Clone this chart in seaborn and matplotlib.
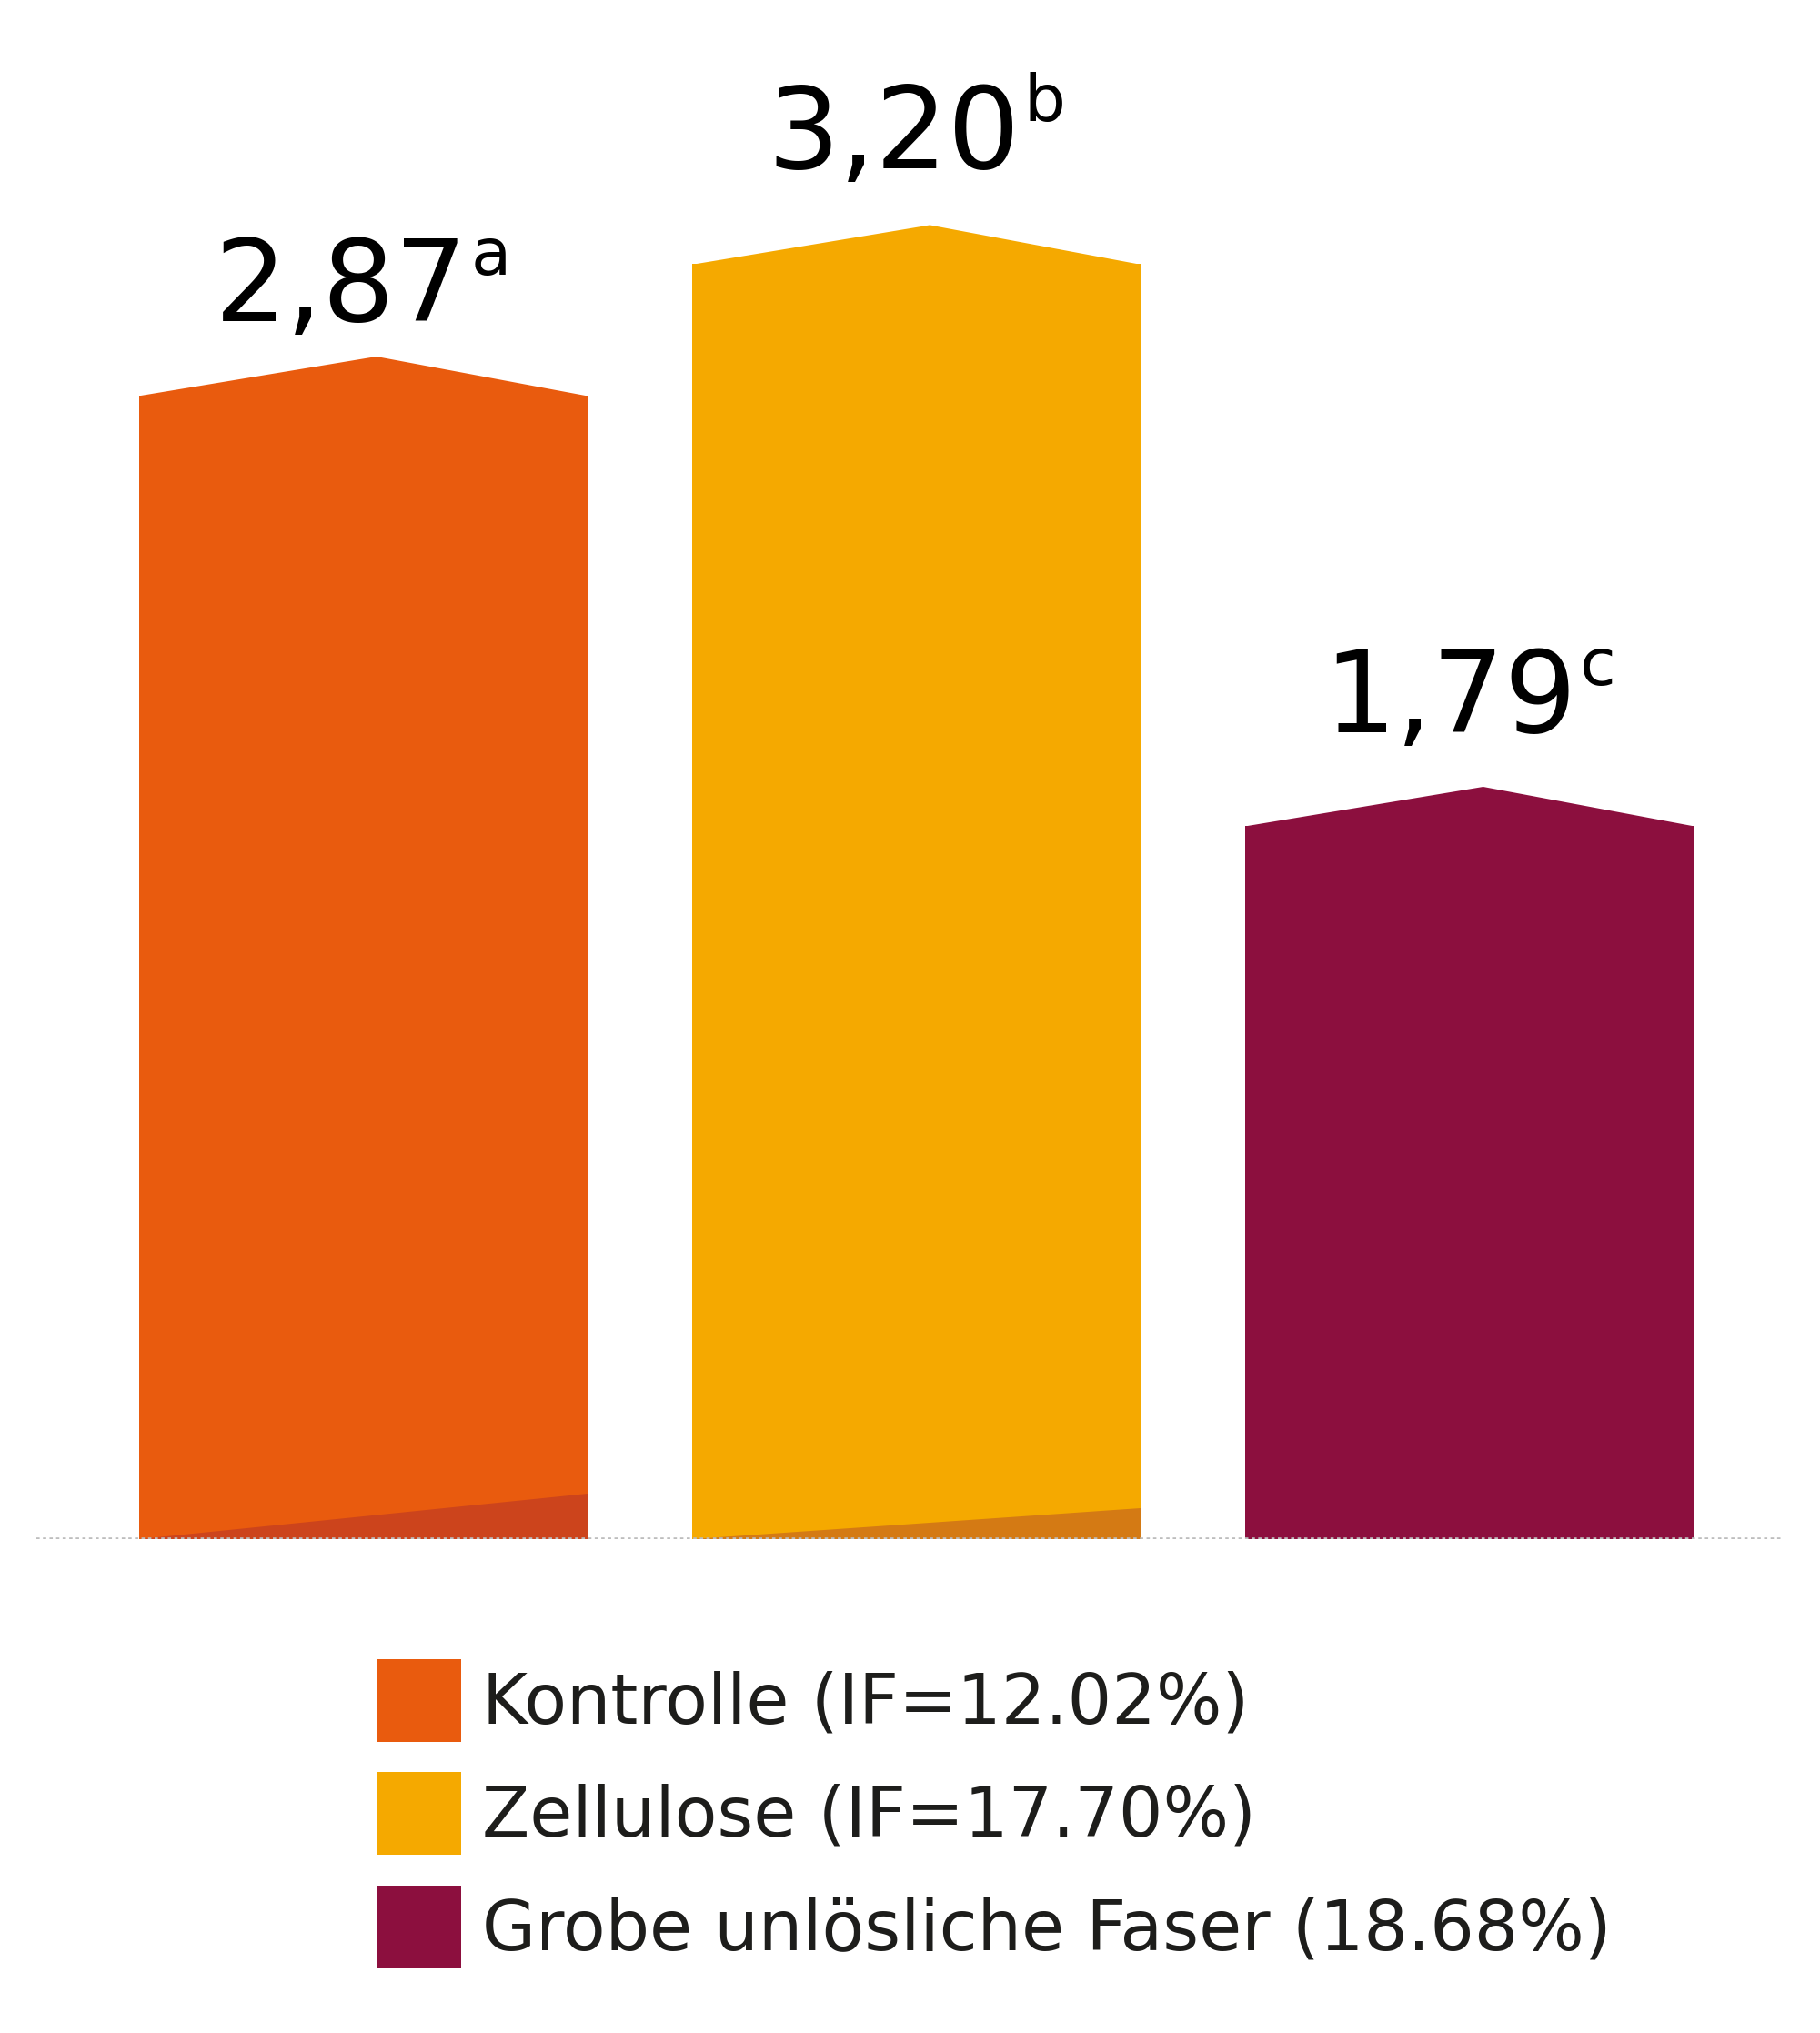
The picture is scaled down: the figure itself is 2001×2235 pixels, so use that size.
import numpy as np
import pandas as pd
import matplotlib
matplotlib.use("Agg")
import matplotlib.pyplot as plt
from matplotlib.patches import Polygon, Patch
from matplotlib.transforms import offset_copy
import seaborn as sns

# ---- data ----
groups = ["Kontrolle", "Zellulose", "Grobe unlösliche Faser"]
values = [2.87, 3.20, 1.79]
value_labels = ["2,87", "3,20", "1,79"]
sig_letters = ["a", "b", "c"]
legend_labels = ["Kontrolle (IF=12.02%)", "Zellulose (IF=17.70%)",
                 "Grobe unlösliche Faser (18.68%)"]
wedge_heights = [0.115, 0.078, 0.0]
colors = ["#E95B0E", "#F5A900", "#8C0F3E"]
dark_colors = ["#CC441C", "#D47A14", "#8C0F3E"]

PEAK = 0.098      # height of the roof above the bar value
PEAK_POS = 0.53   # relative x position of the roof apex
LABEL_GAPS = [0.088, 0.143, 0.137]

sns.set_theme(style="white")
plt.rcParams["font.family"] = ["DejaVu Sans"]

DPI = 100
fig = plt.figure(figsize=(20.01, 22.35), dpi=DPI)
ax = fig.add_axes([0, 0.243, 1, 0.757])

df = pd.DataFrame({"group": groups, "value": values})
sns.barplot(data=df, x="group", y="value", hue="group", palette=colors,
            hue_order=groups, order=groups, width=0.81, saturation=1,
            legend=False, ax=ax, linewidth=0)

ax.set_xlim(-0.656, 2.633)
ax.set_ylim(0, 3.863)
ax.axis("off")

bars = sorted(ax.patches, key=lambda p: p.get_x())
for i, p in enumerate(bars):
    x0, w, h = p.get_x(), p.get_width(), p.get_height()
    roof = Polygon([(x0, h - 0.001), (x0 + PEAK_POS * w, h + PEAK), (x0 + w, h - 0.001)],
                   closed=True, facecolor=colors[i], edgecolor="none", zorder=p.get_zorder())
    ax.add_patch(roof)
    if wedge_heights[i] > 0:
        wedge = Polygon([(x0, 0), (x0 + w, 0), (x0 + w, wedge_heights[i])],
                        closed=True, facecolor=dark_colors[i], edgecolor="none",
                        zorder=p.get_zorder() + 0.1)
        ax.add_patch(wedge)

# dotted baseline
ax.axhline(0, xmin=40 / 2001, xmax=1961 / 2001, color="#bdbdbd",
           linestyle=(0, (1.0, 1.0)), linewidth=2.6, zorder=10)

# value labels with superscript letters
fig.canvas.draw()
renderer = fig.canvas.get_renderer()
MAIN_FS = 90
SUP_FS = 52
px = DPI / 72.0
for i, p in enumerate(bars):
    xc = p.get_x() + p.get_width() / 2
    y = values[i] + PEAK + LABEL_GAPS[i]
    tm = ax.text(xc, y, value_labels[i], ha="left", va="baseline",
                 fontsize=MAIN_FS, color="black")
    ts = ax.text(xc, y, sig_letters[i], ha="left", va="baseline",
                 fontsize=SUP_FS, color="black")
    wm = tm.get_window_extent(renderer).width
    ws = ts.get_window_extent(renderer).width
    gap = 3
    total = wm + gap + ws
    raise_px = 0.729 * MAIN_FS * px - 0.547 * SUP_FS * px
    tm.set_transform(offset_copy(ax.transData, fig=fig, x=-total / 2, y=0, units="dots"))
    ts.set_transform(offset_copy(ax.transData, fig=fig, x=-total / 2 + wm + gap,
                                 y=raise_px, units="dots"))

# legend
handles = [Patch(facecolor=c, edgecolor="none") for c in colors]
LEG_FS = 55
fig.legend(handles=handles, labels=legend_labels, loc="upper left",
           bbox_to_anchor=(415 / 2001, (2235 - 1824) / 2235),
           frameon=False, fontsize=LEG_FS, handlelength=1.2, handleheight=1.45,
           handletextpad=0.3, labelspacing=0.44, borderpad=0, borderaxespad=0,
           labelcolor="#1d1d1b")

fig.savefig("out.png", dpi=DPI, facecolor="white")
